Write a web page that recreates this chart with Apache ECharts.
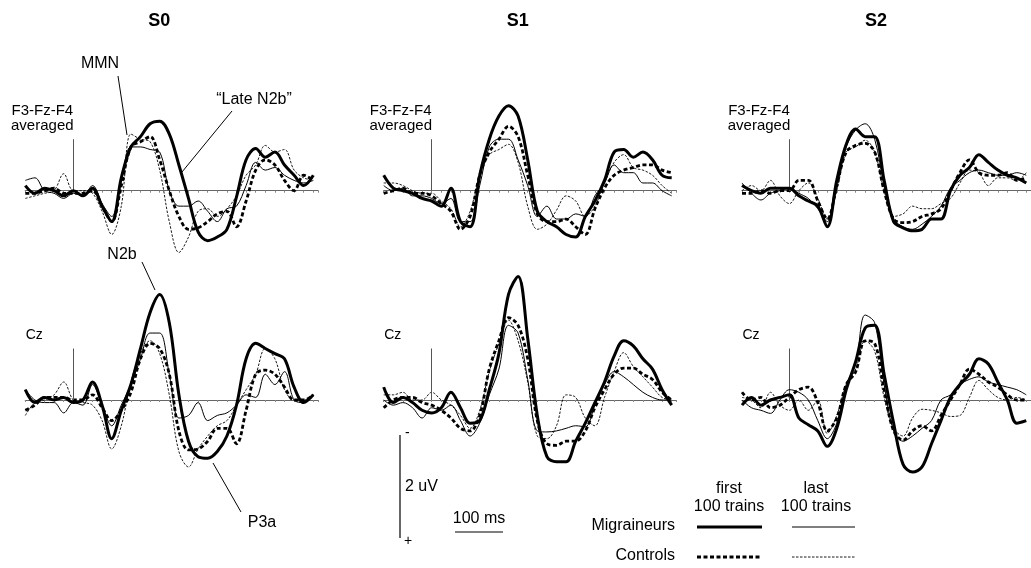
<!DOCTYPE html>
<html><head><meta charset="utf-8">
<script src="https://cdn.jsdelivr.net/npm/echarts@6.0.0/dist/echarts.min.js"></script>
<style>html,body{margin:0;padding:0;background:#fff}#c{width:1031px;height:568px}</style>
</head><body><div id="c"></div>
<script>
// time axis (ms)
const times = [-100,-80,-60,-40,-20,0,20,40,60,80,100,120,140,160,180,200,220,240,260,280,300,320,340,360,380,400,420,440,460,480,500];

// S0 — F3-Fz-F4 averaged (uV, negative up)
const s0FrontMigFirst = [-0.1,0.05,-0.05,0.0,0.1,0.0,0.1,-0.05,0.3,0.6,-0.25,-0.85,-1.05,-1.3,-1.35,-1.1,-0.5,0.15,0.8,0.97,0.9,0.75,0.12,-0.6,-0.82,-0.65,-0.75,-0.5,-0.3,-0.1,-0.3];
const s0FrontMigLast  = [-0.2,-0.25,0.0,0.05,0.15,0.05,0.1,-0.1,0.25,0.5,-0.2,-0.85,-0.85,-0.8,-0.75,0.0,0.3,0.3,0.2,0.4,0.6,0.35,0.3,-0.1,-0.55,-0.4,-0.45,-0.3,-0.2,-0.15,-0.2];
const s0FrontCtrlFirst= [0.05,0.05,0.0,-0.05,0.05,0.05,0.05,0.0,0.3,0.6,-0.1,-0.85,-0.95,-1.05,-0.6,0.0,0.5,0.75,0.72,0.6,0.45,0.4,0.7,0.2,-0.4,-0.6,-0.5,-0.2,0.0,-0.3,-0.2];
const s0FrontCtrlLast = [0.15,0.1,0.05,0.0,-0.33,0.0,0.0,0.05,0.4,0.85,0.3,-1.1,-1.0,-0.95,-0.4,0.6,1.2,0.9,0.4,0.35,0.5,0.35,0.1,-0.3,-0.5,-0.88,-0.75,-0.8,-0.4,-0.25,-0.2];
// S0 — Cz
const s0CzMigFirst  = [-0.2,0.05,-0.05,0.0,-0.05,0.05,0.0,-0.35,0.1,0.75,0.2,-0.3,-1.0,-1.7,-2.05,-1.5,-0.1,0.8,1.1,1.13,1.0,0.7,0.1,-0.8,-1.1,-1.0,-0.9,-0.8,-0.25,0.05,-0.1];
const s0CzMigLast   = [-0.2,0.0,0.05,0.05,0.25,0.05,0.1,-0.3,0.1,0.5,0.1,-0.3,-0.8,-1.3,-1.3,-0.5,0.35,0.3,0.05,0.4,0.3,0.25,0.1,-0.1,-0.05,-0.5,-0.3,-0.55,0.0,0.05,-0.1];
const s0CzCtrlFirst = [0.2,0.1,-0.05,-0.05,-0.05,0.0,0.0,-0.1,0.15,0.4,0.2,-0.15,-0.8,-1.1,-1.0,-0.5,0.6,0.97,0.95,0.8,0.55,0.55,0.85,0.2,-0.5,-0.58,-0.5,-0.25,0.0,0.0,-0.1];
const s0CzCtrlLast  = [0.3,0.05,0.0,-0.1,-0.35,0.0,0.05,0.1,0.4,0.95,0.5,-0.35,-0.9,-1.15,-0.9,-0.1,1.0,1.3,0.95,0.7,0.5,0.4,0.1,-0.2,-0.5,-1.0,-0.8,-0.2,0.0,0.0,-0.1];
// S1 — F3-Fz-F4 averaged
const s1FrontMigFirst = [-0.3,-0.05,0.0,0.05,0.15,0.2,0.3,-0.05,0.6,0.7,-0.3,-1.0,-1.45,-1.65,-1.45,-0.6,0.4,0.6,0.7,0.85,0.9,0.5,0.2,-0.2,-0.75,-0.8,-0.65,-0.75,-0.6,-0.3,-0.25];
const s1FrontMigLast  = [-0.1,0.0,-0.05,0.1,0.1,0.15,0.25,0.15,0.6,0.6,-0.1,-0.85,-1.0,-1.0,-0.6,-0.1,0.5,0.3,0.55,0.55,0.45,0.5,0.1,-0.15,-0.5,-0.35,-0.35,-0.15,-0.15,0.0,0.1];
const s1FrontCtrlFirst= [0.05,0.0,-0.05,0.05,0.05,0.1,0.25,0.4,0.75,0.5,-0.3,-0.75,-1.0,-1.25,-1.05,-0.3,0.45,0.6,0.6,0.55,0.7,0.85,0.35,-0.05,-0.3,-0.4,-0.45,-0.5,-0.5,-0.4,-0.35];
const s1FrontCtrlLast = [-0.15,-0.15,-0.1,0.0,0.05,0.05,0.2,0.35,0.7,0.4,-0.3,-0.7,-0.8,-0.9,-0.55,0.3,0.75,0.65,0.38,0.1,0.2,0.5,0.3,-0.15,-0.55,-0.7,-0.45,-0.4,-0.3,-0.1,0.05];
// S1 — Cz
const s1CzMigFirst  = [-0.25,0.05,-0.05,0.05,0.2,0.25,0.15,-0.15,0.15,0.45,0.4,-0.2,-0.9,-2.05,-2.4,-1.2,0.3,1.1,1.2,1.2,0.8,0.45,0.05,-0.35,-0.85,-1.15,-1.05,-0.8,-0.6,-0.2,0.1];
const s1CzMigLast   = [0.0,0.1,0.05,0.15,0.35,0.15,0.2,0.1,0.4,0.7,0.45,-0.1,-0.6,-1.45,-1.3,-0.4,0.6,0.62,0.6,0.55,0.5,0.52,0.1,-0.3,-0.55,-0.45,-0.3,-0.15,-0.05,0.0,0.0];
const s1CzCtrlFirst = [0.15,0.0,-0.05,-0.05,0.05,0.1,0.2,0.35,0.55,0.6,0.3,-0.6,-1.15,-1.6,-1.45,-0.8,0.4,0.85,0.88,0.8,0.8,0.6,0.15,-0.2,-0.5,-0.62,-0.62,-0.5,-0.4,-0.15,0.0];
const s1CzCtrlLast  = [-0.1,-0.1,-0.15,0.0,0.0,-0.15,0.0,0.1,0.3,0.55,0.2,-0.55,-1.1,-1.55,-1.15,-0.35,0.7,0.75,0.5,-0.1,-0.05,0.35,0.5,-0.05,-0.55,-0.92,-0.65,-0.45,-0.25,-0.05,0.0];
// S2 — F3-Fz-F4 averaged
const s2FrontMigFirst = [-0.1,0.0,0.05,-0.05,-0.05,-0.05,0.1,0.2,0.3,0.7,-0.2,-0.9,-1.2,-1.05,-1.05,-0.2,0.6,0.72,0.78,0.75,0.55,0.55,0.0,-0.3,-0.45,-0.7,-0.55,-0.4,-0.3,-0.25,-0.15];
const s2FrontMigLast  = [-0.15,0.05,0.18,0.05,0.0,-0.05,0.05,0.15,0.35,0.6,-0.05,-0.85,-1.18,-1.3,-1.0,-0.1,0.55,0.7,0.75,0.65,0.5,0.3,-0.05,-0.2,-0.35,-0.4,-0.35,-0.3,-0.3,-0.35,-0.3];
const s2FrontCtrlFirst= [0.05,0.05,0.0,0.05,0.0,0.0,-0.2,-0.2,0.2,0.55,-0.1,-0.75,-0.88,-0.92,-0.75,0.0,0.55,0.62,0.6,0.5,0.45,0.35,0.0,-0.35,-0.6,-0.35,-0.3,-0.3,-0.35,-0.2,-0.25];
const s2FrontCtrlLast = [0.0,-0.1,0.0,-0.2,0.1,0.25,0.0,-0.15,0.15,0.55,0.0,-0.75,-0.85,-0.98,-0.75,0.0,0.5,0.45,0.3,0.35,0.35,0.25,0.15,-0.15,-0.4,-0.35,-0.1,-0.25,-0.25,-0.2,-0.35];
// S2 — Cz
const s2CzMigFirst  = [0.1,-0.05,0.1,0.0,-0.05,-0.1,0.35,0.48,0.6,0.9,0.55,-0.2,-0.75,-1.4,-1.45,-0.5,0.45,1.25,1.4,1.3,0.85,0.4,-0.05,-0.3,-0.5,-0.8,-0.7,-0.35,0.0,0.45,0.4];
const s2CzMigLast   = [0.0,0.15,0.2,0.26,0.0,-0.2,-0.15,0.0,0.4,0.75,0.45,-0.3,-0.7,-1.65,-1.5,-0.3,0.6,0.8,0.7,0.55,0.4,0.0,-0.1,-0.3,-0.4,-0.45,-0.35,-0.3,-0.25,-0.2,-0.1];
const s2CzCtrlFirst = [-0.15,0.0,-0.05,0.15,0.1,-0.05,-0.2,-0.25,0.05,0.6,0.35,-0.3,-0.55,-1.15,-1.1,-0.2,0.6,0.78,0.6,0.5,0.6,0.3,0.0,-0.3,-0.6,-0.5,-0.35,-0.25,-0.1,0.0,0.0];
const s2CzCtrlLast  = [-0.05,0.0,0.15,-0.15,0.1,0.2,0.0,0.2,0.0,0.65,0.3,-0.3,-0.6,-1.15,-0.95,-0.05,0.55,0.7,0.35,0.18,0.2,0.25,0.32,0.3,-0.05,-0.38,-0.2,-0.05,0.0,-0.05,0.0];

const panelTitles = ['S0','S1','S2'];
const channelLabels = ['F3-Fz-F4\naveraged','Cz'];
const legendRows = ['Migraineurs','Controls'];
const legendCols = ['first\n100 trains','last\n100 trains'];
const stimMarker = [0, -1];          // stimulus marker: 0 ms, 0 → -1 uV
const scaleBar = {uV: 2, ms: 100};

const panelData = [
  [s0FrontMigFirst, s0FrontMigLast, s0FrontCtrlFirst, s0FrontCtrlLast],
  [s1FrontMigFirst, s1FrontMigLast, s1FrontCtrlFirst, s1FrontCtrlLast],
  [s2FrontMigFirst, s2FrontMigLast, s2FrontCtrlFirst, s2FrontCtrlLast],
  [s0CzMigFirst, s0CzMigLast, s0CzCtrlFirst, s0CzCtrlLast],
  [s1CzMigFirst, s1CzMigLast, s1CzCtrlFirst, s1CzCtrlLast],
  [s2CzMigFirst, s2CzMigLast, s2CzCtrlFirst, s2CzCtrlLast]
];

// ---- layout / styles ----
const PX_MS = 0.48, PX_UV = 51.5, T_MIN = -100, T_MAX = 510, V_MIN = -3, V_MAX = 2;
const stimXs = [73.3, 431.7, 790];
const baseYs = [190.7, 400];
const FONT = 'Liberation Sans, Arial, Helvetica, sans-serif';
const lineStyles = [
  {width: 3, type: 'solid'},
  {width: 1, type: 'solid'},
  {width: 2.8, type: [4, 2.5]},
  {width: 0.9, type: [2.5, 1.5]}
];
const drawOrder = [3, 2, 1, 0];

const grids = [], xAxes = [], yAxes = [], series = [];
panelData.forEach((sets, i) => {
  const sx = stimXs[i % 3], by = baseYs[Math.floor(i / 3)];
  grids.push({left: sx + T_MIN * PX_MS, top: by + V_MIN * PX_UV,
              width: (T_MAX - T_MIN) * PX_MS, height: (V_MAX - V_MIN) * PX_UV});
  xAxes.push({gridIndex: i, type: 'value', min: T_MIN, max: T_MAX, interval: 20,
    axisLine: {show: true, onZero: true, lineStyle: {color: '#666', width: 1.2}},
    axisTick: {show: true, length: 2, lineStyle: {color: '#888', width: 1}},
    axisLabel: {show: false}, splitLine: {show: false}});
  yAxes.push({gridIndex: i, type: 'value', min: V_MIN, max: V_MAX, inverse: true, show: false,
    splitLine: {show: false}});
  drawOrder.forEach((k, n) => {
    const s = {
      type: 'line', xAxisIndex: i, yAxisIndex: i, smooth: 0.35, showSymbol: false,
      clip: false, silent: true, z: 3 + n,
      lineStyle: {color: '#000', width: lineStyles[k].width, type: lineStyles[k].type},
      data: times.map((t, j) => [t, sets[k][j]])
    };
    if (n === 0) {
      s.markLine = {silent: true, symbol: 'none', label: {show: false},
        lineStyle: {color: '#555', width: 1, type: 'solid'},
        data: [[{coord: [stimMarker[0], 0]}, {coord: [stimMarker[0], stimMarker[1]]}]]};
    }
    series.push(s);
  });
});

const chart = echarts.init(document.getElementById('c'));
chart.setOption({
  animation: false, backgroundColor: '#fff',
  grid: grids, xAxis: xAxes, yAxis: yAxes, series: series
});

// ---- annotations ----
function txt(x, y, text, size, opts) {
  opts = opts || {};
  return {type: 'text', x: x, y: y, z: 20, silent: true,
    style: {text: text, fill: '#000', font: (opts.bold ? 'bold ' : '') + size + 'px ' + FONT,
      textAlign: opts.align || 'center', textVerticalAlign: 'middle', lineHeight: opts.lh || size}};
}
function ln(x1, y1, x2, y2, w, dash) {
  return {type: 'line', z: 20, silent: true, shape: {x1: x1, y1: y1, x2: x2, y2: y2},
    style: {stroke: '#000', lineWidth: w || 1, lineDash: dash || null}};
}
const g = [];
panelTitles.forEach((t, c) => g.push(txt(stimXs[c] + 86, 21, t, 18, {bold: true})));
stimXs.forEach(sx => {
  g.push(txt(sx - 31, 118, channelLabels[0], 15, {lh: 15}));
  g.push(txt(sx - 39, 335, channelLabels[1], 14));
});
g.push(txt(100, 64, 'MMN', 16));
g.push(ln(118, 76, 127, 135));
g.push(txt(254, 100, '\u201CLate N2b\u201D', 16));
g.push(ln(232, 111, 182, 172));
g.push(txt(122, 255, 'N2b', 16));
g.push(ln(142, 262, 155, 290));
g.push(txt(262, 523, 'P3a', 16));
g.push(ln(213, 463, 241, 512));

// scale bars from the axis scales of the S1 Cz panel
const p0 = chart.convertToPixel({gridIndex: 4}, [0, 0]);
const p1 = chart.convertToPixel({gridIndex: 4}, [scaleBar.ms, scaleBar.uV]);
const barV = p1[1] - p0[1], barH = p1[0] - p0[0];
const bx = 400, by0 = 435;
g.push(ln(bx, by0, bx, by0 + barV, 1.2));
g.push(txt(bx + 5, by0 - 2, '-', 14, {align: 'left'}));
g.push(txt(bx + 4, by0 + barV + 3, '+', 14, {align: 'left'}));
g.push(txt(bx + 5, by0 + barV / 2, scaleBar.uV + ' uV', 16, {align: 'left'}));
g.push(ln(455, 532, 455 + barH, 532, 1.2));
g.push(txt(455 + barH / 2, 519, scaleBar.ms + ' ms', 16));

// legend
g.push(txt(729, 498, legendCols[0], 16, {lh: 18}));
g.push(txt(816, 498, legendCols[1], 16, {lh: 18}));
g.push(txt(675, 526, legendRows[0], 16, {align: 'right'}));
g.push(txt(675, 556, legendRows[1], 16, {align: 'right'}));
g.push(ln(697, 527, 762, 527, 3));
g.push(ln(792, 527, 855, 527, 1));
g.push(ln(697, 557, 762, 557, 2.8, [4, 2.5]));
g.push(ln(792, 557, 855, 557, 0.9, [2.5, 1.5]));

chart.setOption({graphic: g});
</script>
</body></html>
